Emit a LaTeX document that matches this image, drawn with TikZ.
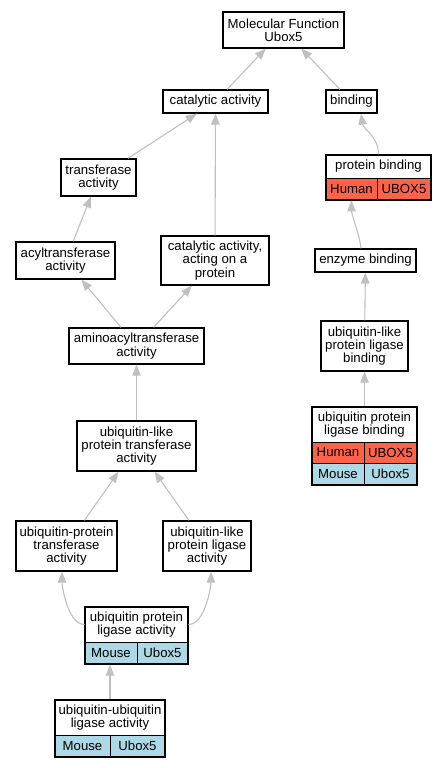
\documentclass[tikz,border=0pt]{standalone}
\usepackage{fontspec}
\setmainfont{Liberation Sans}
\usetikzlibrary{arrows.meta,calc}
\definecolor{edgegray}{RGB}{192,192,192}
\definecolor{human}{RGB}{255,99,71}
\definecolor{mouse}{RGB}{173,216,230}
\begin{document}
\begin{tikzpicture}[x=1bp,y=-1bp,
  txt/.style={font=\fontsize{13.2bp}{13.4bp}\selectfont},
  term/.style={txt, draw=black, line width=1.3bp, fill=white, inner sep=0pt, align=center},
  outer/.style={draw=black, line width=1.3bp, inner sep=0pt},
  cell/.style={txt, draw=black, line width=0.9bp, inner sep=0pt, align=center},
  hcell/.style={cell, fill=human},
  mcell/.style={cell, fill=mouse},
  edge/.style={draw=edgegray, line width=1.1bp, -{Triangle[length=11bp,width=8.5bp]}}]
\useasboundingbox[fill=white] (0,0) rectangle (447,768);

% plain terms
\node[term, minimum width=121bp, minimum height=36bp] (mf) at (283.5,30) {Molecular Function\\Ubox5};
\node[term, minimum width=105bp, minimum height=23bp] (cat) at (215.5,101.5) {catalytic activity};
\node[term, minimum width=51bp, minimum height=23bp] (bind) at (351.5,101.5) {binding};
\node[term, minimum width=75bp, minimum height=37bp] (trans) at (98.5,177.5) {transferase\\activity};
\node[term, minimum width=99bp, minimum height=37bp] (acyl) at (65.5,260.5) {acyltransferase\\activity};
\node[term, minimum width=108bp, minimum height=49bp] (catp) at (215,260.5) {catalytic activity,\\acting on a\\protein};
\node[term, minimum width=101bp, minimum height=23bp] (enz) at (365.5,260.5) {enzyme binding};
\node[term, minimum width=135bp, minimum height=36bp] (amino) at (136.5,346) {aminoacyltransferase\\activity};
\node[term, minimum width=87bp, minimum height=50bp] (ulplb) at (364.5,346) {ubiquitin-like\\protein ligase\\binding};
\node[term, minimum width=119bp, minimum height=50bp] (ulpt) at (136.5,446) {ubiquitin-like\\protein transferase\\activity};
\node[term, minimum width=101bp, minimum height=50bp] (upta) at (66.5,546) {ubiquitin-protein\\transferase\\activity};
\node[term, minimum width=88bp, minimum height=50bp] (ulpla) at (207,546) {ubiquitin-like\\protein ligase\\activity};

% protein binding table
\node[cell, fill=white, minimum width=105bp, minimum height=23bp] (pbh) at (378.5,166.5) {protein binding};
\node[hcell, minimum width=51bp, minimum height=22bp] (pbl) at (351.5,189) {Human};
\node[hcell, minimum width=54bp, minimum height=22bp] (pbr) at (404,189) {UBOX5};
\node[outer, minimum width=105bp, minimum height=45bp] (pb) at (378.5,177.5) {};

% ubiquitin protein ligase binding table
\node[cell, fill=white, minimum width=105bp, minimum height=35bp] (uplbh) at (364.5,424.5) {ubiquitin protein\\ligase binding};
\node[hcell, minimum width=52bp, minimum height=21bp] (uplbhl) at (338,452.5) {Human};
\node[hcell, minimum width=53bp, minimum height=21bp] (uplbhr) at (390.5,452.5) {UBOX5};
\node[mcell, minimum width=52bp, minimum height=22bp] (uplbml) at (338,474) {Mouse};
\node[mcell, minimum width=53bp, minimum height=22bp] (uplbmr) at (390.5,474) {Ubox5};
\node[outer, minimum width=105bp, minimum height=78bp] (uplb) at (364.5,446) {};

% ubiquitin protein ligase activity table
\node[cell, fill=white, minimum width=103bp, minimum height=35bp] (uplah) at (136.5,624.5) {ubiquitin protein\\ligase activity};
\node[mcell, minimum width=52bp, minimum height=22bp] (uplal) at (111,653) {Mouse};
\node[mcell, minimum width=51bp, minimum height=22bp] (uplar) at (162.5,653) {Ubox5};
\node[outer, minimum width=103bp, minimum height=57bp] (upla) at (136.5,635.5) {};

% ubiquitin-ubiquitin ligase activity table
\node[cell, fill=white, minimum width=110bp, minimum height=35bp] (uulah) at (110,717.5) {ubiquitin-ubiquitin\\ligase activity};
\node[mcell, minimum width=55bp, minimum height=22bp] (uulal) at (82.5,746) {Mouse};
\node[mcell, minimum width=55bp, minimum height=22bp] (uular) at (137.5,746) {Ubox5};
\node[outer, minimum width=110bp, minimum height=57bp] (uula) at (110,728.5) {};

% edges
\draw[edge] (cat) -- (mf);
\draw[edge] (bind) -- (mf);
\draw[edge] (trans) -- (cat);
\draw[edge] (catp) -- (cat);
\draw[edge] (acyl) -- (trans);
\draw[edge] (amino) -- (acyl);
\draw[edge] (amino) -- (catp);
\draw[edge] (ulpt) -- (amino);
\draw[edge] (upta) -- (ulpt);
\draw[edge] (ulpla) -- (ulpt);
\draw[edge] (uula.north) -- (uula.north |- upla.south);
\draw[edge] (uplah.west) .. controls ($(uplah.west)+(-17,0)$) and ($(upta.south)+(-4.5,14)$) .. ($(upta.south)+(-4.5,0)$);
\draw[edge] (uplah.east) .. controls ($(uplah.east)+(17,0)$) and ($(ulpla.south)+(4,14)$) .. ($(ulpla.south)+(4,0)$);
\draw[edge] (uplb) -- (ulplb);
\draw[edge] (ulplb) -- (enz);
\draw[edge] ($(enz.north)+(-4.5,0)$) .. controls ($(enz.north)+(-6,-14)$) and ($(pbl.south)+(0,14)$) .. (pbl.south);
\draw[edge] (pb.north) .. controls ($(pb.north)+(0,-18)$) and ($(bind.south)+(12,16)$) .. ($(bind.south)+(9.5,0)$);
\end{tikzpicture}
\end{document}
